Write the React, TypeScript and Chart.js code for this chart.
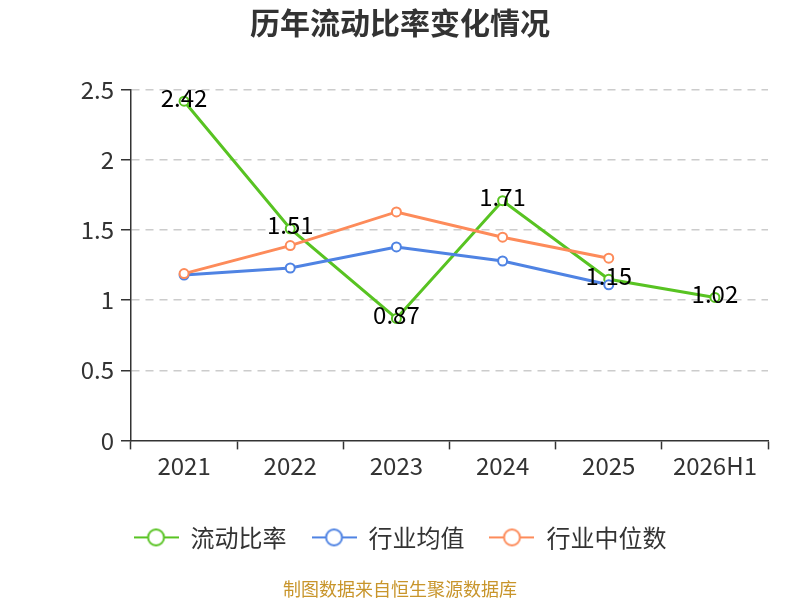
import React, { useEffect, useRef } from "react";
import { Chart, registerables } from "chart.js";

Chart.register(...registerables);

const categories = ["2021", "2022", "2023", "2024", "2025", "2026H1"];
const currentRatio = [2.42, 1.51, 0.87, 1.71, 1.15, 1.02];
const industryAvg = [1.18, 1.23, 1.38, 1.28, 1.11, null];
const industryMedian = [1.19, 1.39, 1.63, 1.45, 1.3, null];
const seriesNames = ["流动比率", "行业均值", "行业中位数"];
const seriesColors = ["#58c322", "#4f83e3", "#fd8b5a"];
const yTicks = [0, 0.5, 1, 1.5, 2, 2.5];

const FONT = "'Noto Sans CJK SC', 'Noto Sans', sans-serif";

function legendSymbol(color: string): HTMLCanvasElement {
  const c = document.createElement("canvas");
  c.width = 45;
  c.height = 20;
  const g = c.getContext("2d")!;
  g.strokeStyle = color;
  g.lineWidth = 2;
  g.beginPath();
  g.moveTo(0, 10);
  g.lineTo(45, 10);
  g.stroke();
  g.beginPath();
  g.arc(22.5, 10, 8, 0, Math.PI * 2);
  g.fillStyle = "#ffffff";
  g.fill();
  g.stroke();
  return c;
}

const labelPlugin = {
  id: "valueLabels",
  afterDatasetsDraw(chart: any) {
    const meta = chart.getDatasetMeta(0);
    const ctx = chart.ctx;
    ctx.save();
    ctx.font = `24px ${FONT}`;
    ctx.fillStyle = "#000000";
    ctx.textAlign = "center";
    ctx.textBaseline = "middle";
    meta.data.forEach((pt: any, i: number) => {
      const v = currentRatio[i];
      if (v == null) return;
      ctx.fillText(v.toFixed(2), pt.x, pt.y - 3.5);
    });
    ctx.restore();
  },
};

export default function App() {
  const ref = useRef<HTMLCanvasElement | null>(null);
  useEffect(() => {
    document.body.style.margin = "0";
    const symbols = seriesColors.map(legendSymbol);
    const mk = (label: string, data: (number | null)[], color: string, order: number) => ({
      label,
      data,
      borderColor: color,
      backgroundColor: "#ffffff",
      borderWidth: 3,
      pointRadius: 4.5,
      pointBorderWidth: 2,
      pointBackgroundColor: "#ffffff",
      pointBorderColor: color,
      tension: 0,
      order,
      yAxisID: "y",
    });
    const chart = new Chart(ref.current!, {
      type: "line",
      data: {
        labels: categories,
        datasets: [
          mk(seriesNames[0], currentRatio, seriesColors[0], 2),
          mk(seriesNames[1], industryAvg, seriesColors[1], 1),
          mk(seriesNames[2], industryMedian, seriesColors[2], 0),
        ],
      },
      plugins: [labelPlugin],
      options: {
        animation: false,
        responsive: false,
        devicePixelRatio: 1,
        layout: { padding: { top: 0, left: 0, right: 0, bottom: 0 } },
        plugins: {
          tooltip: { enabled: false },
          title: {
            display: true,
            text: "历年流动比率变化情况",
            color: "#333333",
            font: { family: FONT, size: 30, weight: "bold" },
            padding: { top: 5, bottom: 49 },
          },
          subtitle: {
            display: true,
            position: "bottom",
            text: "制图数据来自恒生聚源数据库",
            color: "#c8952b",
            font: { family: FONT, size: 18 },
            padding: { top: 19, bottom: 0 },
          },
          legend: {
            position: "bottom",
            labels: {
              usePointStyle: true,
              pointStyleWidth: 45,
              padding: 25,
              color: "#333333",
              font: { family: FONT, size: 24 },
              generateLabels: (c: any) =>
                c.data.datasets.map((ds: any, i: number) => ({
                  text: ds.label,
                  pointStyle: symbols[i],
                  fillStyle: "#ffffff",
                  strokeStyle: seriesColors[i],
                  lineWidth: 0,
                  datasetIndex: i,
                  hidden: false,
                  fontColor: "#333333",
                })),
            },
          },
        },
        scales: {
          x: {
            offset: true,
            afterFit: (s: any) => {
              s.height = 60;
            },
            grid: {
              display: true,
              drawOnChartArea: false,
              offset: true,
              tickLength: 9,
              tickColor: "#333333",
              tickWidth: 1.5,
            },
            border: { display: true, color: "#333333", width: 1.5 },
            ticks: {
              color: "#333333",
              padding: 2,
              font: { family: FONT, size: 24 },
              maxRotation: 0,
              autoSkip: false,
            },
          },
          y: {
            min: 0,
            max: 2.5,
            afterFit: (s: any) => {
              s.width = 131;
            },
            afterBuildTicks: (s: any) => {
              s.ticks = yTicks.map((v) => ({ value: v }));
            },
            grid: {
              color: (ctx: any) => (ctx.tick && ctx.tick.value === 0 ? "rgba(0,0,0,0)" : "#cccccc"),
              lineWidth: 1.5,
              tickLength: 10,
              tickColor: "#333333",
              tickWidth: 1.5,
            },
            border: { display: true, color: "#333333", width: 1.5, dash: [8, 6] },
            ticks: {
              color: "#333333",
              padding: 7,
              font: { family: FONT, size: 24 },
              callback: (v: any) => String(Number(v)),
            },
          },
          yRightSpace: {
            position: "right",
            display: true,
            min: 0,
            max: 1,
            afterFit: (s: any) => {
              s.width = 32;
            },
            grid: { display: false, drawOnChartArea: false },
            border: { display: false },
            ticks: { display: false },
          },
        },
      },
    } as any);
    return () => chart.destroy();
  }, []);
  return (
    <div style={{ width: 800, height: 600, position: "relative" }}>
      <canvas ref={ref} width={800} height={600} style={{ display: "block" }} />
    </div>
  );
}
